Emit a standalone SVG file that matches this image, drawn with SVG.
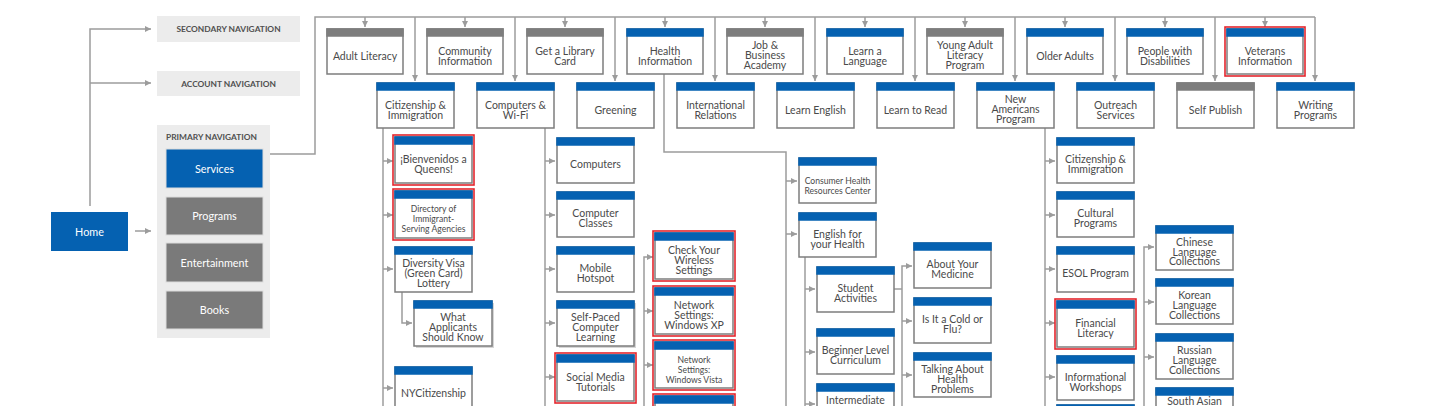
<svg xmlns="http://www.w3.org/2000/svg" width="1440" height="406" viewBox="0 0 1440 406">
<style>
.box{fill:#fff;stroke:#7d7d7d;stroke-width:1.5}
.sh{fill:#d6d6d6}
.hb{fill:#0561b1}
.hg{fill:#7d7d7d}
.red{fill:none;stroke:#e3262d;stroke-width:1.6}
.t{font-family:Lato,"Liberation Sans",sans-serif;font-size:10.5px;fill:#4a4a4a;text-anchor:middle}
.s{font-size:8.6px}
.c{fill:none;stroke:#9c9c9c;stroke-width:1.5}
.a{marker-end:url(#ah)}
.nav{fill:#ececec}
.nt{font-family:Lato,"Liberation Sans",sans-serif;font-size:8.4px;font-weight:bold;fill:#505050}
.btn{stroke:#dcdcdc;stroke-width:1}
.bb{fill:#0561b1}
.bg{fill:#7a7a7a}
.bt{font-family:Lato,"Liberation Sans",sans-serif;font-size:10.8px;fill:#fff;text-anchor:middle}
</style>
<defs>
<marker id="ah" markerUnits="userSpaceOnUse" markerWidth="6" markerHeight="6" refX="6" refY="3" orient="auto">
<path d="M0,0L6,3L0,6z" fill="#9c9c9c"/>
</marker>
</defs>
<rect width="1440" height="406" fill="#fff"/>

<g id="connectors">
<path class="c" d="M267 154H315V17H1315"/>
<path class="c a" d="M365 17V27"/><path class="c a" d="M465 17V27"/><path class="c a" d="M565 17V27"/><path class="c a" d="M665 17V27"/><path class="c a" d="M765 17V27"/>
<path class="c a" d="M865 17V27"/><path class="c a" d="M965 17V27"/><path class="c a" d="M1065 17V27"/><path class="c a" d="M1165 17V27"/><path class="c a" d="M1265 17V27"/>
<path class="c a" d="M415 17V81"/><path class="c a" d="M515 17V81"/><path class="c a" d="M615 17V81"/><path class="c a" d="M715 17V81"/><path class="c a" d="M815 17V81"/>
<path class="c a" d="M915 17V81"/><path class="c a" d="M1015 17V81"/><path class="c a" d="M1115 17V81"/><path class="c a" d="M1215 17V81"/><path class="c a" d="M1315 17V81"/>
<path class="c a" d="M90 206V29H151"/>
<path class="c a" d="M90 83H151"/>
<path class="c a" d="M135 231H151"/>
<path class="c" d="M383 128V406"/>
<path class="c a" d="M383 161H393"/><path class="c a" d="M383 215H393"/><path class="c a" d="M383 269H393"/><path class="c a" d="M383 388H393"/>
<path class="c a" d="M402 292V323H412"/>
<path class="c" d="M545 128V406"/>
<path class="c a" d="M545 161H555"/><path class="c a" d="M545 215H555"/><path class="c a" d="M545 269H555"/><path class="c a" d="M545 323H555"/><path class="c a" d="M545 377H555"/>
<path class="c a" d="M644 406V257H653"/>
<path class="c a" d="M644 311H653"/><path class="c a" d="M644 365H653"/>
<path class="c" d="M664 74V152H786V406"/>
<path class="c a" d="M786 181H797"/><path class="c a" d="M786 234H797"/>
<path class="c" d="M805 257V406"/>
<path class="c a" d="M805 289H815"/><path class="c a" d="M805 352H815"/><path class="c a" d="M805 404H815"/>
<path class="c" d="M894 289H902"/>
<path class="c a" d="M902 406V266H912"/>
<path class="c a" d="M902 321H912"/><path class="c a" d="M902 375H912"/>
<path class="c" d="M1045 128V406"/>
<path class="c a" d="M1045 161H1055"/><path class="c a" d="M1045 215H1055"/><path class="c a" d="M1045 269H1055"/><path class="c a" d="M1045 323H1055"/><path class="c a" d="M1045 377H1055"/>
<path class="c a" d="M1144 406V247H1154"/>
<path class="c a" d="M1144 302H1154"/><path class="c a" d="M1144 357H1154"/>
</g>

<!-- Left navigation -->
<g id="secondary-navigation"><rect class="nav" x="157" y="16" width="143" height="26"/><text class="nt" x="228.5" y="32" text-anchor="middle">SECONDARY NAVIGATION</text></g>
<g id="account-navigation"><rect class="nav" x="157" y="71" width="143" height="25"/><text class="nt" x="228.5" y="86.5" text-anchor="middle">ACCOUNT NAVIGATION</text></g>
<g id="primary-navigation"><rect class="nav" x="157" y="125" width="113" height="213"/><text class="nt" x="166" y="140">PRIMARY NAVIGATION</text></g>
<g id="services"><rect class="btn bb" x="166" y="149" width="97" height="39"/><text class="bt" x="214.5" y="172.5">Services</text></g>
<g id="programs"><rect class="btn bg" x="166" y="197" width="97" height="38"/><text class="bt" x="214.5" y="219.5">Programs</text></g>
<g id="entertainment"><rect class="btn bg" x="166" y="243" width="97" height="39"/><text class="bt" x="214.5" y="266.5">Entertainment</text></g>
<g id="books"><rect class="btn bg" x="166" y="291" width="97" height="38"/><text class="bt" x="214.5" y="313.5">Books</text></g>
<g id="home"><rect class="bb" x="51" y="212" width="77" height="39"/><text class="bt" x="89.5" y="235.5">Home</text></g>

<!-- Top row -->
<g id="adult-literacy" transform="translate(327,29)"><rect class="box" width="76" height="45"/><rect class="hg" x="-0.75" y="-0.75" width="77.5" height="8.5"/><text class="t" x="38" y="30.5">Adult Literacy</text></g>
<g id="community-information" transform="translate(427,29)"><rect class="box" width="76" height="45"/><rect class="hg" x="-0.75" y="-0.75" width="77.5" height="8.5"/><text class="t" x="38" y="25.5">Community</text><text class="t" x="38" y="35.5">Information</text></g>
<g id="get-a-library-card" transform="translate(527,29)"><rect class="box" width="76" height="45"/><rect class="hg" x="-0.75" y="-0.75" width="77.5" height="8.5"/><text class="t" x="38" y="25.5">Get a Library</text><text class="t" x="38" y="35.5">Card</text></g>
<g id="health-information" transform="translate(627,29)"><rect class="box" width="76" height="45"/><rect class="hb" x="-0.75" y="-0.75" width="77.5" height="8.5"/><text class="t" x="38" y="25.5">Health</text><text class="t" x="38" y="35.5">Information</text></g>
<g id="job-business-academy" transform="translate(727,29)"><rect class="box" width="76" height="45"/><rect class="hg" x="-0.75" y="-0.75" width="77.5" height="8.5"/><text class="t" x="38" y="20">Job &amp;</text><text class="t" x="38" y="30">Business</text><text class="t" x="38" y="40">Academy</text></g>
<g id="learn-a-language" transform="translate(827,29)"><rect class="box" width="76" height="45"/><rect class="hb" x="-0.75" y="-0.75" width="77.5" height="8.5"/><text class="t" x="38" y="25.5">Learn a</text><text class="t" x="38" y="35.5">Language</text></g>
<g id="young-adult-literacy-program" transform="translate(927,29)"><rect class="box" width="76" height="45"/><rect class="hg" x="-0.75" y="-0.75" width="77.5" height="8.5"/><text class="t" x="38" y="20">Young Adult</text><text class="t" x="38" y="30">Literacy</text><text class="t" x="38" y="40">Program</text></g>
<g id="older-adults" transform="translate(1027,29)"><rect class="box" width="76" height="45"/><rect class="hb" x="-0.75" y="-0.75" width="77.5" height="8.5"/><text class="t" x="38" y="30.5">Older Adults</text></g>
<g id="people-with-disabilities" transform="translate(1127,29)"><rect class="box" width="76" height="45"/><rect class="hb" x="-0.75" y="-0.75" width="77.5" height="8.5"/><text class="t" x="38" y="25.5">People with</text><text class="t" x="38" y="35.5">Disabilities</text></g>
<g id="veterans-information" transform="translate(1227,29)"><rect class="box" width="76" height="45"/><rect class="hb" x="-0.75" y="-0.75" width="77.5" height="8.5"/><rect class="red" x="-2" y="-2" width="80" height="49"/><text class="t" x="38" y="25.5">Veterans</text><text class="t" x="38" y="35.5">Information</text></g>

<!-- Second row -->
<g id="citizenship-immigration" transform="translate(377,83)"><rect class="box" width="77" height="45"/><rect class="hb" x="-0.75" y="-0.75" width="78.5" height="8.5"/><text class="t" x="38.5" y="25.5">Citizenship &amp;</text><text class="t" x="38.5" y="35.5">Immigration</text></g>
<g id="computers-wifi" transform="translate(477,83)"><rect class="box" width="77" height="45"/><rect class="hb" x="-0.75" y="-0.75" width="78.5" height="8.5"/><text class="t" x="38.5" y="25.5">Computers &amp;</text><text class="t" x="38.5" y="35.5">Wi-Fi</text></g>
<g id="greening" transform="translate(577,83)"><rect class="box" width="77" height="45"/><rect class="hb" x="-0.75" y="-0.75" width="78.5" height="8.5"/><text class="t" x="38.5" y="30.5">Greening</text></g>
<g id="international-relations" transform="translate(677,83)"><rect class="box" width="77" height="45"/><rect class="hb" x="-0.75" y="-0.75" width="78.5" height="8.5"/><text class="t" x="38.5" y="25.5">International</text><text class="t" x="38.5" y="35.5">Relations</text></g>
<g id="learn-english" transform="translate(777,83)"><rect class="box" width="77" height="45"/><rect class="hb" x="-0.75" y="-0.75" width="78.5" height="8.5"/><text class="t" x="38.5" y="30.5">Learn English</text></g>
<g id="learn-to-read" transform="translate(877,83)"><rect class="box" width="77" height="45"/><rect class="hb" x="-0.75" y="-0.75" width="78.5" height="8.5"/><text class="t" x="38.5" y="30.5">Learn to Read</text></g>
<g id="new-americans-program" transform="translate(977,83)"><rect class="box" width="77" height="45"/><rect class="hb" x="-0.75" y="-0.75" width="78.5" height="8.5"/><text class="t" x="38.5" y="20">New</text><text class="t" x="38.5" y="30">Americans</text><text class="t" x="38.5" y="40">Program</text></g>
<g id="outreach-services" transform="translate(1077,83)"><rect class="box" width="77" height="45"/><rect class="hb" x="-0.75" y="-0.75" width="78.5" height="8.5"/><text class="t" x="38.5" y="25.5">Outreach</text><text class="t" x="38.5" y="35.5">Services</text></g>
<g id="self-publish" transform="translate(1177,83)"><rect class="box" width="77" height="45"/><rect class="hg" x="-0.75" y="-0.75" width="78.5" height="8.5"/><text class="t" x="38.5" y="30.5">Self Publish</text></g>
<g id="writing-programs" transform="translate(1277,83)"><rect class="box" width="77" height="45"/><rect class="hb" x="-0.75" y="-0.75" width="78.5" height="8.5"/><text class="t" x="38.5" y="25.5">Writing</text><text class="t" x="38.5" y="35.5">Programs</text></g>

<!-- Citizenship children -->
<g id="bienvenidos-a-queens" transform="translate(395,137)"><rect class="box" width="77" height="46"/><rect class="hb" x="-0.75" y="-0.75" width="78.5" height="8.5"/><rect class="red" x="-2" y="-2" width="81" height="50"/><text class="t" x="38.5" y="26">¡Bienvenidos a</text><text class="t" x="38.5" y="36">Queens!</text></g>
<g id="directory-immigrant-serving-agencies" transform="translate(395,191)"><rect class="box" width="77" height="47"/><rect class="hb" x="-0.75" y="-0.75" width="78.5" height="8.5"/><rect class="red" x="-2" y="-2" width="81" height="51"/><text class="t s" x="38.5" y="21">Directory of</text><text class="t s" x="38.5" y="31">Immigrant-</text><text class="t s" x="38.5" y="41">Serving Agencies</text></g>
<g id="diversity-visa-lottery" transform="translate(395,247)"><rect class="box" width="77" height="45"/><rect class="hb" x="-0.75" y="-0.75" width="78.5" height="8.5"/><text class="t" x="38.5" y="20">Diversity Visa</text><text class="t" x="38.5" y="30">(Green Card)</text><text class="t" x="38.5" y="40">Lottery</text></g>
<g id="what-applicants-should-know" transform="translate(414,301)"><rect class="sh" x="2" y="2" width="78" height="45"/><rect class="box" width="78" height="45"/><rect class="hb" x="-0.75" y="-0.75" width="79.5" height="8.5"/><text class="t" x="39" y="20">What</text><text class="t" x="39" y="30">Applicants</text><text class="t" x="39" y="40">Should Know</text></g>
<g id="nycitizenship" transform="translate(395,367)"><rect class="box" width="77" height="45"/><rect class="hb" x="-0.75" y="-0.75" width="78.5" height="8.5"/><text class="t" x="38.5" y="30">NYCitizenship</text></g>

<!-- Computers children -->
<g id="computers" transform="translate(557,138)"><rect class="box" width="77" height="45"/><rect class="hb" x="-0.75" y="-0.75" width="78.5" height="8.5"/><text class="t" x="38.5" y="30">Computers</text></g>
<g id="computer-classes" transform="translate(557,192)"><rect class="box" width="77" height="45"/><rect class="hb" x="-0.75" y="-0.75" width="78.5" height="8.5"/><text class="t" x="38.5" y="25">Computer</text><text class="t" x="38.5" y="35">Classes</text></g>
<g id="mobile-hotspot" transform="translate(557,247)"><rect class="box" width="77" height="45"/><rect class="hb" x="-0.75" y="-0.75" width="78.5" height="8.5"/><text class="t" x="38.5" y="25">Mobile</text><text class="t" x="38.5" y="35">Hotspot</text></g>
<g id="self-paced-computer-learning" transform="translate(557,301)"><rect class="sh" x="2" y="2" width="77" height="45"/><rect class="box" width="77" height="45"/><rect class="hb" x="-0.75" y="-0.75" width="78.5" height="8.5"/><text class="t" x="38.5" y="20">Self-Paced</text><text class="t" x="38.5" y="30">Computer</text><text class="t" x="38.5" y="40">Learning</text></g>
<g id="social-media-tutorials" transform="translate(557,355)"><rect class="box" width="77" height="46"/><rect class="hb" x="-0.75" y="-0.75" width="78.5" height="8.5"/><rect class="red" x="-2" y="-2" width="81" height="50"/><text class="t" x="38.5" y="26">Social Media</text><text class="t" x="38.5" y="36">Tutorials</text></g>

<!-- Mobile Hotspot children -->
<g id="check-your-wireless-settings" transform="translate(655,233)"><rect class="box" width="78" height="46"/><rect class="hb" x="-0.75" y="-0.75" width="79.5" height="8.5"/><rect class="red" x="-2" y="-2" width="82" height="50"/><text class="t" x="39" y="20.5">Check Your</text><text class="t" x="39" y="30.5">Wireless</text><text class="t" x="39" y="40.5">Settings</text></g>
<g id="network-settings-windows-xp" transform="translate(655,288)"><rect class="box" width="78" height="46"/><rect class="hb" x="-0.75" y="-0.75" width="79.5" height="8.5"/><rect class="red" x="-2" y="-2" width="82" height="50"/><text class="t" x="39" y="20.5">Network</text><text class="t" x="39" y="30.5">Settings:</text><text class="t" x="39" y="40.5">Windows XP</text></g>
<g id="network-settings-windows-vista" transform="translate(655,342)"><rect class="box" width="78" height="46"/><rect class="hb" x="-0.75" y="-0.75" width="79.5" height="8.5"/><rect class="red" x="-2" y="-2" width="82" height="50"/><text class="t s" x="39" y="20.5">Network</text><text class="t s" x="39" y="30.5">Settings:</text><text class="t s" x="39" y="40.5">Windows Vista</text></g>
<g id="network-settings-next" transform="translate(655,396)"><rect class="box" width="78" height="46"/><rect class="hb" x="-0.75" y="-0.75" width="79.5" height="8.5"/><rect class="red" x="-2" y="-2" width="82" height="50"/></g>

<!-- Health children -->
<g id="consumer-health-resources-center" transform="translate(799,158)"><rect class="box" width="77" height="45"/><rect class="hb" x="-0.75" y="-0.75" width="78.5" height="8.5"/><text class="t s" x="38.5" y="26">Consumer Health</text><text class="t s" x="38.5" y="36">Resources Center</text></g>
<g id="english-for-your-health" transform="translate(799,213)"><rect class="box" width="77" height="44"/><rect class="hb" x="-0.75" y="-0.75" width="78.5" height="8.5"/><text class="t" x="38.5" y="24.5">English for</text><text class="t" x="38.5" y="34.5">your Health</text></g>
<g id="student-activities" transform="translate(817,267)"><rect class="box" width="77" height="45"/><rect class="hb" x="-0.75" y="-0.75" width="78.5" height="8.5"/><text class="t" x="38.5" y="25">Student</text><text class="t" x="38.5" y="35">Activities</text></g>
<g id="beginner-level-curriculum" transform="translate(817,329)"><rect class="box" width="77" height="45"/><rect class="hb" x="-0.75" y="-0.75" width="78.5" height="8.5"/><text class="t" x="38.5" y="25">Beginner Level</text><text class="t" x="38.5" y="35">Curriculum</text></g>
<g id="intermediate" transform="translate(817,384)"><rect class="box" width="77" height="45"/><rect class="hb" x="-0.75" y="-0.75" width="78.5" height="8.5"/><text class="t" x="38.5" y="20">Intermediate</text></g>
<g id="about-your-medicine" transform="translate(914,243)"><rect class="box" width="77" height="45"/><rect class="hb" x="-0.75" y="-0.75" width="78.5" height="8.5"/><text class="t" x="38.5" y="25">About Your</text><text class="t" x="38.5" y="35">Medicine</text></g>
<g id="is-it-a-cold-or-flu" transform="translate(914,298)"><rect class="box" width="77" height="45"/><rect class="hb" x="-0.75" y="-0.75" width="78.5" height="8.5"/><text class="t" x="38.5" y="25">Is It a Cold or</text><text class="t" x="38.5" y="35">Flu?</text></g>
<g id="talking-about-health-problems" transform="translate(914,353)"><rect class="box" width="77" height="44"/><rect class="hb" x="-0.75" y="-0.75" width="78.5" height="8.5"/><text class="t" x="38.5" y="19.5">Talking About</text><text class="t" x="38.5" y="29.5">Health</text><text class="t" x="38.5" y="39.5">Problems</text></g>

<!-- New Americans children -->
<g id="na-citizenship-immigration" transform="translate(1057,138)"><rect class="box" width="77" height="45"/><rect class="hb" x="-0.75" y="-0.75" width="78.5" height="8.5"/><text class="t" x="38.5" y="25">Citizenship &amp;</text><text class="t" x="38.5" y="35">Immigration</text></g>
<g id="cultural-programs" transform="translate(1057,192)"><rect class="box" width="77" height="45"/><rect class="hb" x="-0.75" y="-0.75" width="78.5" height="8.5"/><text class="t" x="38.5" y="25">Cultural</text><text class="t" x="38.5" y="35">Programs</text></g>
<g id="esol-program" transform="translate(1057,247)"><rect class="box" width="77" height="45"/><rect class="hb" x="-0.75" y="-0.75" width="78.5" height="8.5"/><text class="t" x="38.5" y="30">ESOL Program</text></g>
<g id="financial-literacy" transform="translate(1057,301)"><rect class="box" width="77" height="46"/><rect class="hb" x="-0.75" y="-0.75" width="78.5" height="8.5"/><rect class="red" x="-2" y="-2" width="81" height="50"/><text class="t" x="38.5" y="26">Financial</text><text class="t" x="38.5" y="36">Literacy</text></g>
<g id="informational-workshops" transform="translate(1057,356)"><rect class="box" width="77" height="44"/><rect class="hb" x="-0.75" y="-0.75" width="78.5" height="8.5"/><text class="t" x="38.5" y="24.5">Informational</text><text class="t" x="38.5" y="34.5">Workshops</text></g>
<g id="na-next" transform="translate(1057,405)"><rect class="box" width="77" height="45"/><rect class="hb" x="-0.75" y="-0.75" width="78.5" height="8.5"/></g>
<g id="chinese-language-collections" transform="translate(1156,226)"><rect class="box" width="77" height="44"/><rect class="hb" x="-0.75" y="-0.75" width="78.5" height="8.5"/><text class="t" x="38.5" y="19.5">Chinese</text><text class="t" x="38.5" y="29.5">Language</text><text class="t" x="38.5" y="39">Collections</text></g>
<g id="korean-language-collections" transform="translate(1156,279)"><rect class="box" width="77" height="45"/><rect class="hb" x="-0.75" y="-0.75" width="78.5" height="8.5"/><text class="t" x="38.5" y="20">Korean</text><text class="t" x="38.5" y="30">Language</text><text class="t" x="38.5" y="39.5">Collections</text></g>
<g id="russian-language-collections" transform="translate(1156,334)"><rect class="box" width="77" height="45"/><rect class="hb" x="-0.75" y="-0.75" width="78.5" height="8.5"/><text class="t" x="38.5" y="20">Russian</text><text class="t" x="38.5" y="30">Language</text><text class="t" x="38.5" y="39.5">Collections</text></g>
<g id="south-asian" transform="translate(1156,388)"><rect class="box" width="77" height="45"/><rect class="hb" x="-0.75" y="-0.75" width="78.5" height="8.5"/><text class="t" x="38.5" y="17.3">South Asian</text></g>
</svg>
